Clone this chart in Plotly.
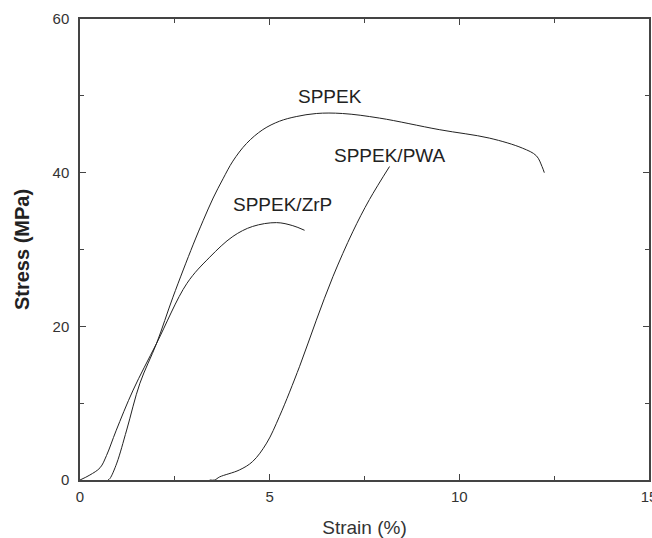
import plotly.graph_objects as go

# stress-strain curves (strain %, stress MPa)
sppek_x = [0.74, 0.79, 0.97, 1.23, 1.58, 2.02, 2.45, 2.98, 3.25, 3.51, 3.77, 4.03, 4.39,
           4.82, 5.26, 5.7, 6.23, 6.92, 7.9, 9.47, 10.79, 11.66, 12.03, 12.18, 12.24]
sppek_y = [0.0, 0.2, 2.2, 6.5, 12.6, 17.8, 23.8, 30.6, 33.8, 36.7, 39.2, 41.5, 43.8,
           45.6, 46.7, 47.3, 47.7, 47.7, 47.1, 45.6, 44.5, 43.2, 42.2, 40.8, 40.0]

zrp_x = [0.0, 0.26, 0.53, 0.7, 0.95, 1.4, 2.02, 2.82, 3.42, 4.03, 4.55, 5.18, 5.61, 5.92]
zrp_y = [0.0, 0.65, 1.6, 3.2, 6.4, 11.7, 17.8, 25.6, 29.0, 31.7, 33.0, 33.5, 33.1, 32.5]

pwa_x = [3.42, 3.55, 3.68, 4.2, 4.55, 4.92, 5.26, 5.79, 6.23, 6.67, 7.19, 7.63, 8.16]
pwa_y = [0.0, 0.0, 0.4, 1.3, 2.4, 4.8, 8.3, 14.8, 20.8, 26.5, 32.3, 36.5, 40.8]

labels = ["SPPEK", "SPPEK/PWA", "SPPEK/ZrP"]
label_x = [6.58, 8.16, 5.34]
label_y = [49.9, 42.3, 35.9]

fig = go.Figure()
for xs, ys in [(sppek_x, sppek_y), (zrp_x, zrp_y), (pwa_x, pwa_y)]:
    fig.add_trace(go.Scatter(x=xs, y=ys, mode="lines",
                             line=dict(color="#222", width=1, shape="spline", smoothing=1),
                             showlegend=False, hoverinfo="skip"))

for t, ax, ay in zip(labels, label_x, label_y):
    fig.add_annotation(x=ax, y=ay, text=t, showarrow=False,
                       font=dict(size=19, color="#222"))

axis_style = dict(showline=True, linecolor="#444", linewidth=1.5, mirror="ticks",
                  ticks="inside", ticklen=6, tickwidth=1, tickcolor="#444",
                  showgrid=False, zeroline=False, automargin=False,
                  ticklabeloverflow="allow",
                  tickfont=dict(size=15, color="#333"))

fig.update_xaxes(range=[0, 15], dtick=5, tick0=0, ticklabelstandoff=2,
                 minor=dict(dtick=2.5, ticks="inside", ticklen=4, tickcolor="#444"),
                 title=dict(text="Strain (%)", font=dict(size=19, color="#333"), standoff=21),
                 **axis_style)
fig.update_yaxes(range=[0, 60], dtick=20, tick0=0, ticklabelstandoff=6,
                 minor=dict(dtick=10, ticks="inside", ticklen=4, tickcolor="#444"),
                 title=dict(text="<b>Stress (MPa)</b>", font=dict(size=20, color="#222"), standoff=18),
                 **axis_style)

fig.update_layout(width=652, height=538,
                  margin=dict(l=80, r=3, t=19, b=58),
                  plot_bgcolor="white", paper_bgcolor="white",
                  font=dict(family="Liberation Sans, Arial, sans-serif"))

# drop the default 8px page margin so the figure sits at the window origin
fig.write_html("out.html", config={"displayModeBar": False},
               post_script="document.body.style.margin='0';document.body.style.overflow='hidden';")
